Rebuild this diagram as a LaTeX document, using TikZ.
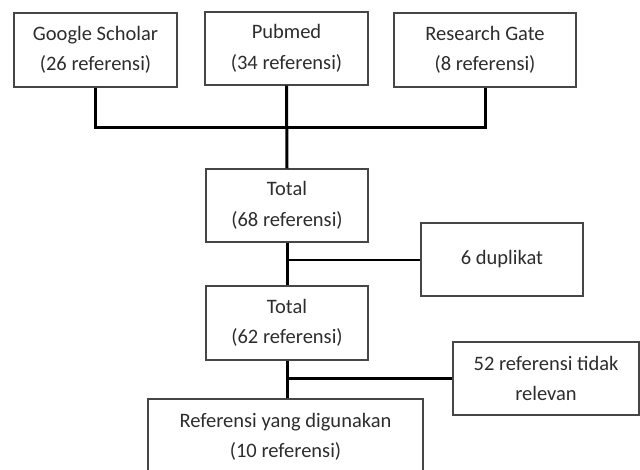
\documentclass[tikz,border=0pt]{standalone}
\usepackage{fontspec}
\setmainfont{Carlito}
\usepackage{xcolor}
\definecolor{boxgray}{RGB}{70,70,70}
\definecolor{textgray}{RGB}{45,45,45}

\begin{document}
\begin{tikzpicture}[x=1pt,y=-1pt,
	kotak/.style={draw=boxgray,line width=1.2pt,inner sep=0pt,align=center,
		text=textgray,font=\fontsize{20.5}{30.5}\selectfont},
	garis/.style={line width=3pt},
	garistipis/.style={line width=2pt}]
	\useasboundingbox (0,0) rectangle (640,469);
	\clip (0,0) rectangle (640,469);
	% sumber
	\node[kotak,minimum width=163pt,minimum height=74pt] (gs) at (95.5,50) {Google Scholar\\(26 referensi)};
	\node[kotak,minimum width=163pt,minimum height=73pt] (pm) at (286.5,48.5) {Pubmed\\(34 referensi)};
	\node[kotak,minimum width=182pt,minimum height=74pt] (rg) at (485,50) {Research Gate\\(8 referensi)};
	% total
	\node[kotak,minimum width=162pt,minimum height=73pt] (tot1) at (287,205.5) {Total\\(68 referensi)};
	\node[kotak,minimum width=162pt,minimum height=73pt] (dup) at (502,259.5) {6 duplikat};
	\node[kotak,minimum width=162pt,minimum height=74pt] (tot2) at (287,323) {Total\\(62 referensi)};
	\node[kotak,minimum width=186pt,minimum height=73pt] (rel) at (546,378.5) {52 referensi tidak\\relevan};
	\node[kotak,minimum width=275pt,minimum height=76pt] (akhir) at (285.5,437) {Referensi yang digunakan\\(10 referensi)};
	\coordinate (bar) at (286,127);
	% garis
	\draw[garis] (gs.south) |- (bar) -| (rg.south);
	\draw[garis] (pm.south) -- (tot1.north);
	\draw[garis] (tot1.south) -- (tot2.north);
	\draw[garistipis] (tot1.south |- dup.west) -- (dup.west);
	\draw[garis] (tot2.south) -- (tot2.south |- akhir.north);
	\draw[garis] (tot2.south |- rel.west) -- (rel.west);
\end{tikzpicture}
\end{document}
